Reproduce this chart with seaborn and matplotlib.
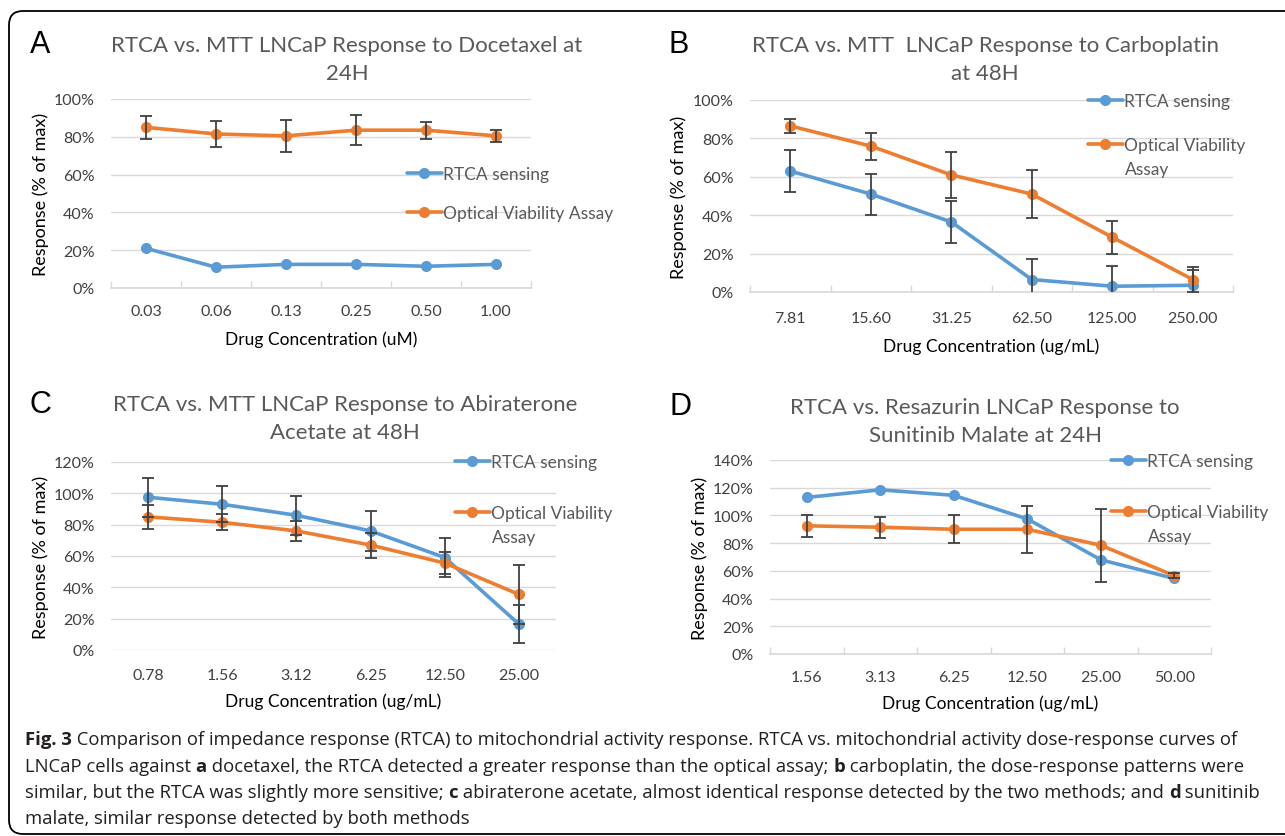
import pandas as pd
import matplotlib
matplotlib.use('Agg')
import matplotlib.pyplot as plt
import seaborn as sns
from matplotlib.lines import Line2D
from matplotlib.patches import FancyBboxPatch
from matplotlib.ticker import PercentFormatter

# Panel A - Docetaxel 24H
conc_a = ['0.03', '0.06', '0.13', '0.25', '0.50', '1.00']
rtca_a = [21, 11, 12.5, 12.5, 11.5, 12.5]
opt_a = [85, 81.5, 80.5, 83.5, 83.5, 80.5]
opt_err_a = [6, 7, 8.5, 8, 4.5, 3.3]

# Panel B - Carboplatin 48H
conc_b = ['7.81', '15.60', '31.25', '62.50', '125.00', '250.00']
rtca_b = [63, 51, 36.5, 6.5, 3, 3.5]
rtca_err_b = [10.7, 10.7, 11, 10.7, 10.5, 8]
opt_b = [86.5, 76, 61, 51, 28.5, 6.5]
opt_err_b = [3.5, 7, 12, 12.4, 8.5, 6.5]

# Panel C - Abiraterone acetate 48H
conc_c = ['0.78', '1.56', '3.12', '6.25', '12.50', '25.00']
rtca_c = [97.5, 93, 86, 76, 59, 16.5]
rtca_err_c = [12.5, 11.5, 12.5, 12.7, 12.5, 12]
opt_c = [85, 81.5, 76, 67, 55.5, 35.5]
opt_err_c = [7.5, 5, 6.5, 8, 7, 19]

# Panel D - Sunitinib malate 24H
conc_d = ['1.56', '3.13', '6.25', '12.50', '25.00', '50.00']
rtca_d = [113, 118.5, 114.5, 97.5, 68, 54.5]
opt_d = [92.5, 91.5, 90, 90, 78.5, 56.5]
opt_err_d = [8, 7.5, 10, 17, 26.5, 2]

titles = ['RTCA vs. MTT LNCaP Response to Docetaxel at\n24H',
          'RTCA vs. MTT  LNCaP Response to Carboplatin\nat 48H',
          'RTCA vs. MTT LNCaP Response to Abiraterone\nAcetate at 48H',
          'RTCA vs. Resazurin LNCaP Response to\nSunitinib Malate at 24H']
letters = ['A', 'B', 'C', 'D']
xlabels = ['Drug Concentration (uM)', 'Drug Concentration (ug/mL)',
           'Drug Concentration (ug/mL)', 'Drug Concentration (ug/mL)']
series = ['RTCA sensing', 'Optical Viability Assay']

sns.set_theme(style='white')
plt.rcParams['font.family'] = ['Lato', 'DejaVu Sans']

W, H = 1285, 837
fig = plt.figure(figsize=(W / 100, H / 100), dpi=100)
BLUE = '#5B9BD5'
ORANGE = '#ED7D31'


def rect(x0, y0, x1, y1):
    return [x0 / W, 1 - y1 / H, (x1 - x0) / W, (y1 - y0) / H]


panels = [
    dict(box=(111, 100, 531, 289), conc=conc_a, rtca=rtca_a, rtca_err=None,
         opt=opt_a, opt_err=opt_err_a, ymax=100, ticks=True,
         title_xy=(347, 36), letter_xy=(40, 45), ylab_x=41, xlab_y=340, tick_y=311,
         leg_xy=(407, 167), wrap=False, leg_sp=1.34),
    dict(box=(750, 101, 1233, 293), conc=conc_b, rtca=rtca_b, rtca_err=rtca_err_b,
         opt=opt_b, opt_err=opt_err_b, ymax=100, ticks=True,
         title_xy=(985, 36), letter_xy=(679, 45), ylab_x=679, xlab_y=347, tick_y=318,
         leg_xy=(1088, 94), wrap=True, leg_sp=1.63),
    dict(box=(111, 463, 556, 651), conc=conc_c, rtca=rtca_c, rtca_err=rtca_err_c,
         opt=opt_c, opt_err=opt_err_c, ymax=120, ticks=False,
         title_xy=(345, 395), letter_xy=(40, 405), ylab_x=41, xlab_y=702, tick_y=675,
         leg_xy=(455, 455), wrap=True, leg_sp=2.03),
    dict(box=(770, 461, 1211, 655), conc=conc_d, rtca=rtca_d, rtca_err=None,
         opt=opt_d, opt_err=opt_err_d, ymax=140, ticks=True,
         title_xy=(985, 398), letter_xy=(680, 407), ylab_x=700, xlab_y=704, tick_y=677,
         leg_xy=(1111, 454), wrap=True, leg_sp=2.03),
]

wrapped = []
for i, p in enumerate(panels):
    x0, y0, x1, y1 = p['box']
    ax = fig.add_axes(rect(*p['box']))
    n = len(p['conc'])
    df = pd.DataFrame({
        'pos': list(range(n)) * 2,
        'value': p['rtca'] + p['opt'],
        'series': [series[0]] * n + [series[1]] * n,
    })
    sns.lineplot(data=df, x='pos', y='value', hue='series', hue_order=series,
                 palette=[BLUE, ORANGE], marker='o', markersize=8, markeredgewidth=0,
                 linewidth=2.6, legend=False, ax=ax, zorder=3)
    if p['rtca_err'] is not None:
        ax.errorbar(range(n), p['rtca'], yerr=p['rtca_err'], fmt='none',
                    ecolor='#404040', elinewidth=1.3, capsize=4.5, capthick=1.3, zorder=5)
    ax.errorbar(range(n), p['opt'], yerr=p['opt_err'], fmt='none',
                ecolor='#404040', elinewidth=1.3, capsize=4.5, capthick=1.3, zorder=5)

    ax.set_xlim(-0.5, n - 0.5)
    ax.set_ylim(0, p['ymax'])
    ax.set_yticks(range(0, p['ymax'] + 1, 20))
    ax.yaxis.set_major_formatter(PercentFormatter(decimals=0))
    ax.set_xticks(range(n), labels=p['conc'])
    ax.grid(axis='y', color='#D9D9D9', linewidth=1)
    ax.set_axisbelow(True)
    for s in ax.spines.values():
        s.set_visible(False)
    if p['ticks']:
        ax.spines['bottom'].set_visible(True)
        ax.spines['bottom'].set_color('#D9D9D9')
        ax.set_xticks([k - 0.5 for k in range(n + 1)], minor=True)
        ax.tick_params(axis='x', which='minor', direction='in', length=5,
                       color='#D9D9D9', width=1, bottom=True)
    ax.tick_params(axis='x', which='major', length=0,
                   pad=(p['tick_y'] - y1) * 0.72 - 4, labelsize=11.5, labelcolor='#404040')
    ax.tick_params(axis='y', length=0, pad=12, labelsize=11.5, labelcolor='#404040')

    ax.set_xlabel(xlabels[i], fontsize=12.5, color='black')
    ax.xaxis.label.set_va('center')
    ax.xaxis.set_label_coords(0.5, (y1 - p['xlab_y']) / (y1 - y0))
    ax.set_ylabel('Response (% of max)', fontsize=13, color='black')
    ax.yaxis.label.set_va('center')
    ax.yaxis.set_label_coords((p['ylab_x'] - x0) / (x1 - x0), 0.5)

    tx, ty = p['title_xy']
    fig.text(tx / W, 1 - ty / H, titles[i], ha='center', va='top', ma='center',
             fontsize=16, color='#595959', linespacing=1.5)
    lx, ly = p['letter_xy']
    fig.text(lx / W, 1 - ly / H, letters[i], ha='center', va='center',
             fontsize=22, color='black', family='Liberation Sans')

    handles = [Line2D([0], [0], color=c, lw=2.6, marker='o', markersize=8, markeredgewidth=0)
               for c in (BLUE, ORANGE)]
    labels = ['RTCA sensing', 'Optical Viability' if p['wrap'] else 'Optical Viability Assay']
    lgx, lgy = p['leg_xy']
    leg = ax.legend(handles, labels, loc='upper left',
                    bbox_to_anchor=(lgx / W, 1 - lgy / H), bbox_transform=fig.transFigure,
                    frameon=False, fontsize=12.5, handlelength=2.0, handletextpad=0.1,
                    borderpad=0, borderaxespad=0, labelspacing=p['leg_sp'])
    for t in leg.get_texts():
        t.set_color('#595959')
    if p['wrap']:
        wrapped.append(leg)

# rounded frame around the figure
frame = FancyBboxPatch((9, 2), 1300, 823, boxstyle='round,pad=0,rounding_size=14',
                       transform=None, fill=False, edgecolor='black', linewidth=1.3)
fig.patches.append(frame)

# second line of the wrapped legend label
fig.canvas.draw()
renderer = fig.canvas.get_renderer()
for leg in wrapped:
    bb = leg.get_texts()[1].get_window_extent(renderer=renderer)
    fig.text(bb.x0 / W, (bb.y0 + bb.y1) / 2 / H - 24 / H, 'Assay', ha='left', va='center',
             fontsize=12.5, color='#595959')

# caption with bold pieces
cap_lines = [
    [('Fig. 3', True), (' Comparison of impedance response (RTCA) to mitochondrial activity response. RTCA vs. mitochondrial activity dose-response curves of', False)],
    [('LNCaP cells against ', False), ('a', True), (' docetaxel, the RTCA detected a greater response than the optical assay; ', False), ('b', True), (' carboplatin, the dose-response patterns were', False)],
    [('similar, but the RTCA was slightly more sensitive; ', False), ('c', True), (' abiraterone acetate, almost identical response detected by the two methods; and ', False), ('d', True), (' sunitinib', False)],
    [('malate, similar response detected by both methods', False)],
]
cap_y = [740, 767, 793, 819]
for line, yy in zip(cap_lines, cap_y):
    xx = 25
    for txt, bold in line:
        t = fig.text(xx / W, 1 - yy / H, txt, ha='left', va='center', fontsize=13.3,
                     family='Open Sans', fontweight='bold' if bold else 'normal', color='#231F20')
        bb = t.get_window_extent(renderer=renderer)
        xx += bb.width

fig.savefig('out.png', dpi=100)
